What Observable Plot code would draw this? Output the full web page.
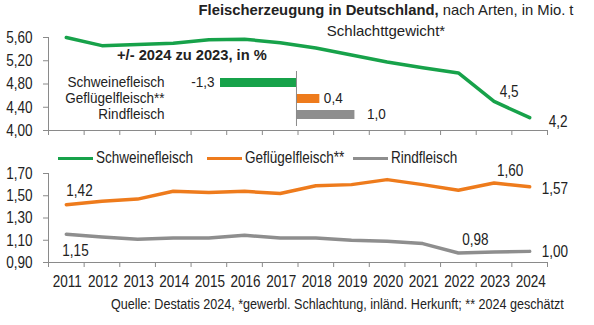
<!DOCTYPE html>
<html><head><meta charset="utf-8">
<script src="https://cdn.jsdelivr.net/npm/d3@7"></script>
<script src="https://cdn.jsdelivr.net/npm/@observablehq/plot@0.6"></script>
<style>
body{margin:0;background:#fff;}
#wrap{position:relative;width:594px;height:325px;overflow:hidden;font-family:"Liberation Sans",Arial,sans-serif;color:#222;}
#wrap svg{position:absolute;left:0;top:0;overflow:visible;}
.t{position:absolute;white-space:nowrap;}
.c{transform-origin:0 50%;transform:scaleX(0.82);}
</style></head>
<body><div id="wrap"></div>
<script>
const years = [2011,2012,2013,2014,2015,2016,2017,2018,2019,2020,2021,2022,2023,2024];
const schwein = [5.60,5.46,5.48,5.50,5.56,5.57,5.51,5.42,5.30,5.18,5.08,4.99,4.50,4.22];
const gefluegel = [1.42,1.45,1.47,1.54,1.53,1.54,1.52,1.59,1.60,1.645,1.60,1.55,1.615,1.58];
const rind = [1.155,1.13,1.11,1.12,1.12,1.145,1.12,1.12,1.10,1.09,1.07,0.985,0.995,1.00];
const changeCats = ["Schweinefleisch","Geflügelfleisch**","Rindfleisch"];
const changeVals = [-1.3,0.4,1.0];
const topTicks = [4.0,4.4,4.8,5.2,5.6];
const bottomTicks = [0.9,1.1,1.3,1.5,1.7];
const labelsTop = [{year:2023,v:4.50,t:"4,5"},{year:2024,v:4.22,t:"4,2"}];

const GREEN="#17a24a", ORANGE="#ee7b1c", GRAY="#8e8e8e", AX="#8a8a8a";
const FONT='"Liberation Sans",Arial,sans-serif';
const fmt = (d,p)=>d3.format("."+p+"f")(d).replace(".",",").replace("−","-");
const bounds = d3.range(2010.5,2025,1);
const wrap = document.getElementById("wrap");
const W=594,H=325;

function condense(svg,k){
  svg.querySelectorAll("text").forEach(t=>{
    const targets = t.querySelectorAll("tspan").length ? t.querySelectorAll("tspan") : [t];
    targets.forEach(el=>{
      const L = el.getComputedTextLength();
      if (L>0){ el.setAttribute("textLength", (L*k).toFixed(2)); el.setAttribute("lengthAdjust","spacingAndGlyphs"); }
    });
  });
}

const sw = years.map((y,i)=>({year:y,v:schwein[i]}));
const gf = years.map((y,i)=>({year:y,v:gefluegel[i]}));
const rd = years.map((y,i)=>({year:y,v:rind[i]}));

const common = {width:W,height:H,marginLeft:48,marginRight:47,style:{fontFamily:FONT,fontSize:"16.5px",color:"#222",background:"transparent"}};

const topPlot = Plot.plot({...common,marginTop:37,marginBottom:H-130,
  x:{domain:[2010.5,2024.5]},
  y:{domain:[4.0,5.6]},
  marks:[
    Plot.axisX({ticks:bounds,tickFormat:()=>"",tickSize:5,stroke:AX,label:null}),
    Plot.axisY({ticks:topTicks,tickFormat:d=>fmt(d,2),tickSize:5,tickPadding:11,stroke:AX,label:null}),
    Plot.ruleY([4.0],{stroke:AX}),
    Plot.ruleX([2010.5],{stroke:AX}),
    Plot.line(sw,{x:"year",y:"v",stroke:GREEN,strokeWidth:3.5}),
    Plot.text(labelsTop.slice(0,1),{x:"year",y:"v",text:"t",dx:15,dy:-10,fill:"#222"}),
    Plot.text(labelsTop.slice(1),{x:"year",y:"v",text:"t",dx:19,dy:4,textAnchor:"start",fill:"#222"})
  ]});
wrap.appendChild(topPlot);

const bl = [
 {d:gf[0],t:fmt(gf[0].v,2),dx:0,dy:-14,a:"start"},
 {d:rd[0],t:"1,15",dx:-4,dy:17,a:"start"},
 {d:gf[12],t:"1,60",dx:16,dy:-12,a:"middle"},
 {d:gf[13],t:"1,57",dx:12,dy:2,a:"start"},
 {d:rd[11],t:"0,98",dx:17,dy:-13,a:"middle"},
 {d:rd[13],t:"1,00",dx:12,dy:0,a:"start"}
];
const bottomPlot = Plot.plot({...common,marginTop:173,marginBottom:H-262,
  x:{domain:[2010.5,2024.5]},
  y:{domain:[0.9,1.7]},
  marks:[
    Plot.axisX({ticks:bounds,tickFormat:()=>"",tickSize:5,stroke:AX,label:null}),
    Plot.axisX({ticks:years,tickFormat:d=>String(d),tickSize:0,tickPadding:13,label:null,dx:1}),
    Plot.axisY({ticks:bottomTicks,tickFormat:d=>fmt(d,2),tickSize:5,tickPadding:11,stroke:AX,label:null}),
    Plot.ruleY([0.9],{stroke:AX}),
    Plot.ruleX([2010.5],{stroke:AX}),
    Plot.line(gf,{x:"year",y:"v",stroke:ORANGE,strokeWidth:3.5}),
    Plot.line(rd,{x:"year",y:"v",stroke:GRAY,strokeWidth:3.5}),
    ...bl.map(b=>Plot.text([b.d],{x:"year",y:"v",text:()=>b.t,dx:b.dx,dy:b.dy,textAnchor:b.a,fill:"#222"}))
  ]});
wrap.appendChild(bottomPlot);

// inset bar chart
const ch = changeCats.map((c,i)=>({cat:c,v:changeVals[i]}));
const inset = Plot.plot({width:420,height:H,marginLeft:168,marginRight:20,marginTop:71,marginBottom:H-126,
  style:{fontFamily:FONT,fontSize:"14px",color:"#222",background:"transparent"},
  x:{domain:[-2.19,1.78],axis:null},
  y:{domain:changeCats,padding:0.42,label:null},
  marks:[
    Plot.axisY({tickSize:0,tickPadding:4,label:null}),
    Plot.barX(ch,{x:"v",y:"cat",fill:d=>d.v<0?GREEN:(d.cat==="Rindfleisch"?GRAY:ORANGE)}),
    Plot.ruleX([0],{stroke:AX}),
    Plot.text(ch.filter(d=>d.v<0),{x:"v",y:"cat",text:d=>fmt(d.v,1),dx:-6,textAnchor:"end",fill:"#222"}),
    Plot.text(ch.filter(d=>d.cat!=="Rindfleisch"&&d.v>=0),{x:"v",y:"cat",text:d=>fmt(d.v,1),dx:4,textAnchor:"start",fill:"#222"}),
    Plot.text(ch.filter(d=>d.cat==="Rindfleisch"),{x:"v",y:"cat",text:d=>fmt(d.v,1),dx:12,textAnchor:"start",fill:"#222"})
  ]});
wrap.appendChild(inset);

condense(topPlot,0.82); condense(bottomPlot,0.82); condense(inset,0.966);

function addText(html,css,cls){const d=document.createElement("div");d.className="t"+(cls?" "+cls:"");d.innerHTML=html;Object.assign(d.style,css);wrap.appendChild(d);return d;}
addText('<b>Fleischerzeugung in Deutschland,</b> nach Arten, in Mio. t',{left:"0",width:"772px",textAlign:"center",top:"2px",fontSize:"14.8px",color:"#222"});
addText('Schlachttgewicht*',{left:"0",width:"772px",textAlign:"center",top:"22px",fontSize:"15px",color:"#222"});
addText('<b>+/- 2024 zu 2023, in %</b>',{left:"117px",top:"47px",fontSize:"14.7px",color:"#222"});
const foot = addText('Quelle: Destatis 2024, *gewerbl. Schlachtung, inländ. Herkunft; ** 2024 geschätzt',{left:"111px",top:"296px",fontSize:"14px",color:"#222"},"c");
foot.style.transform = "scaleX(" + (453/foot.getBoundingClientRect().width*0.82).toFixed(3) + ")";

// legend
const legendItems = [["Schweinefleisch",GREEN,58],["Geflügelfleisch**",ORANGE,207],["Rindfleisch",GRAY,353]];
legendItems.forEach(([n,c,x])=>{
  addText("",{left:x+"px",top:"156.5px",width:"35px",height:"3.5px",background:c});
  addText(n,{left:(x+38)+"px",top:"148px",fontSize:"16.5px",color:"#222"},"c");
});
</script></body></html>
